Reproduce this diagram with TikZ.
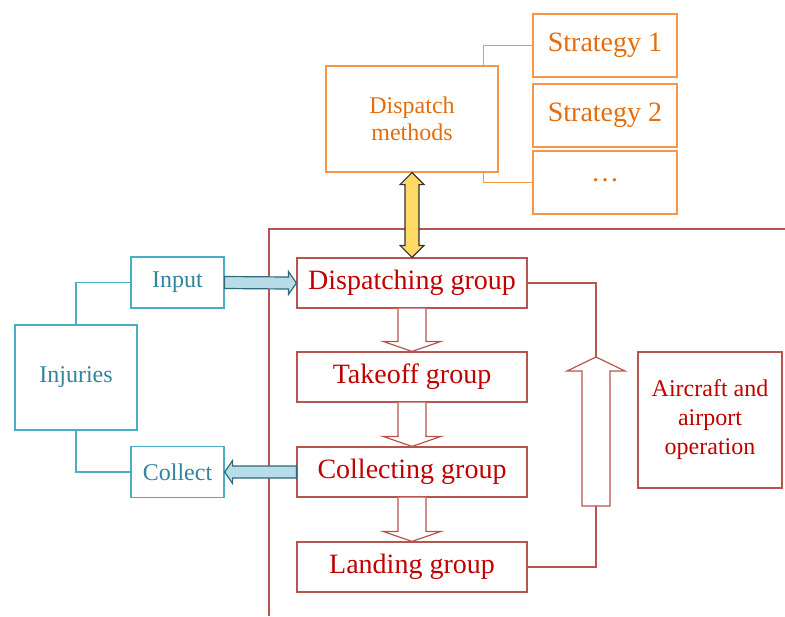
\documentclass[tikz,border=0pt]{standalone}
\usepackage{fontspec}
\setmainfont{Liberation Serif}
\usepackage{tikz}
\usetikzlibrary{calc}

\definecolor{grpred}{RGB}{192,0,0}
\definecolor{grpline}{RGB}{184,84,80}
\definecolor{mthorange}{RGB}{228,108,10}
\definecolor{mthline}{RGB}{247,150,70}
\definecolor{injblue}{RGB}{49,132,155}
\definecolor{injline}{RGB}{75,172,198}
\definecolor{injfill}{RGB}{183,222,232}
\definecolor{injdark}{RGB}{47,105,122}
\definecolor{linkyellow}{RGB}{255,217,102}

\tikzset{
  grpbox/.style={draw=grpline, line width=0.6pt, text=grpred, minimum width=115pt, minimum height=25pt, inner sep=0pt, font=\fontsize{14}{16}\selectfont},
  grpline/.style={draw=grpline, line width=0.6pt},
  mthbox/.style={draw=mthline, line width=0.6pt, text=mthorange, inner sep=0pt, align=center},
  injbox/.style={draw=injline, line width=0.6pt, text=injblue, inner sep=0pt, font=\fontsize{12}{14}\selectfont},
  hollow/.style={draw=grpline, line width=0.6pt, fill=white},
  bluearrow/.style={draw=injdark, line width=0.6pt, fill=injfill},
}

\begin{document}
\begin{tikzpicture}[x=0.5pt, y=-0.5pt]
\useasboundingbox (0,0) rectangle (785,616);

% system frame
\draw[grpline] (269,616) -- (269,229) -- (785,229);

% groups
\node[grpbox] at (412,283) (dispatching) {Dispatching group};
\node[grpbox] at (412,377) (takeoff) {Takeoff group};
\node[grpbox] at (412,472) (collecting) {Collecting group};
\node[grpbox] at (412,567) (landing) {Landing group};
\node[grpbox, minimum width=72pt, minimum height=68pt, align=center, font=\fontsize{12}{14.5}\selectfont] at (710,420) (aircraft) {Aircraft and\\airport\\operation};

% dispatch methods and strategies
\node[mthbox, minimum width=86pt, minimum height=53pt, font=\fontsize{12}{13.5}\selectfont] at (412,119) (dmethods) {Dispatch\\methods};
\node[mthbox, minimum width=72pt, minimum height=31.5pt, font=\fontsize{14}{16}\selectfont] at (605,45.5) (strat1) {Strategy 1};
\node[mthbox, minimum width=72pt, minimum height=31.5pt, font=\fontsize{14}{16}\selectfont] at (605,115.5) (strat2) {Strategy 2};
\node[mthbox, minimum width=72pt, minimum height=31.5pt, font=\fontsize{14}{16}\selectfont] at (605,182.5) (dots) {\raisebox{2pt}{\ldots}};

% injuries
\node[injbox, minimum width=61pt, minimum height=52.5pt] at (76,377.5) (injuries) {Injuries};
\node[injbox, minimum width=46.5pt, minimum height=25.5pt] at (177.5,282.5) (input) {Input};
\node[injbox, minimum width=46.5pt, minimum height=25.5pt] at (177.5,472) (collect) {Collect};

\draw[draw=mthline, line width=0.6pt] ($(dmethods.north east)+(-15,0)$) |- (strat1.west);
\draw[draw=mthline, line width=0.6pt] ($(dmethods.south east)+(-15,0)$) |- (dots.west);
\draw[draw=injline, line width=0.6pt] (injuries.north) |- (input.west);
\draw[draw=injline, line width=0.6pt] (injuries.south) |- (collect.west);

% hollow arrows down the chain
\foreach \a/\b in {dispatching/takeoff, takeoff/collecting, collecting/landing}
  \draw[hollow] ($(\a.south)+(-14,0)$) -- ($(\b.north)+(-14,-10)$) -- ($(\b.north)+(-29,-10)$)
    -- (\b.north) -- ($(\b.north)+(29,-10)$) -- ($(\b.north)+(14,-10)$) -- ($(\a.south)+(14,0)$);

% feedback from landing back to dispatching
\coordinate (uptip) at (596,357);
\coordinate (upfoot) at (596,506);
\draw[grpline] (dispatching.east) -| (uptip);
\draw[grpline] (landing.east) -| (upfoot);
\draw[hollow] ($(upfoot)+(-14,0)$) -- ($(uptip)+(-14,14)$) -- ($(uptip)+(-29,14)$) -- (uptip)
  -- ($(uptip)+(29,14)$) -- ($(uptip)+(14,14)$) -- ($(upfoot)+(14,0)$) -- cycle;

% link between methods and dispatching
\draw[draw=black!80, line width=0.6pt, fill=linkyellow]
  (dmethods.south) -- ($(dmethods.south)+(12,12)$) -- ($(dmethods.south)+(7,12)$)
  -- ($(dispatching.north)+(7,-12)$) -- ($(dispatching.north)+(12,-12)$) -- (dispatching.north)
  -- ($(dispatching.north)+(-12,-12)$) -- ($(dispatching.north)+(-7,-12)$)
  -- ($(dmethods.south)+(-7,12)$) -- ($(dmethods.south)+(-12,12)$) -- cycle;

% input and collect
\draw[bluearrow] ($(input.east)+(0,-6)$) -- ($(dispatching.west)+(-8,-6)$) -- ($(dispatching.west)+(-8,-11.5)$)
  -- (dispatching.west) -- ($(dispatching.west)+(-8,11.5)$) -- ($(dispatching.west)+(-8,6)$) -- ($(input.east)+(0,6)$) -- cycle;
\draw[bluearrow] ($(collecting.west)+(0,-6)$) -- ($(collect.east)+(8,-6)$) -- ($(collect.east)+(8,-11.5)$)
  -- (collect.east) -- ($(collect.east)+(8,11.5)$) -- ($(collect.east)+(8,6)$) -- ($(collecting.west)+(0,6)$) -- cycle;
\end{tikzpicture}
\end{document}
